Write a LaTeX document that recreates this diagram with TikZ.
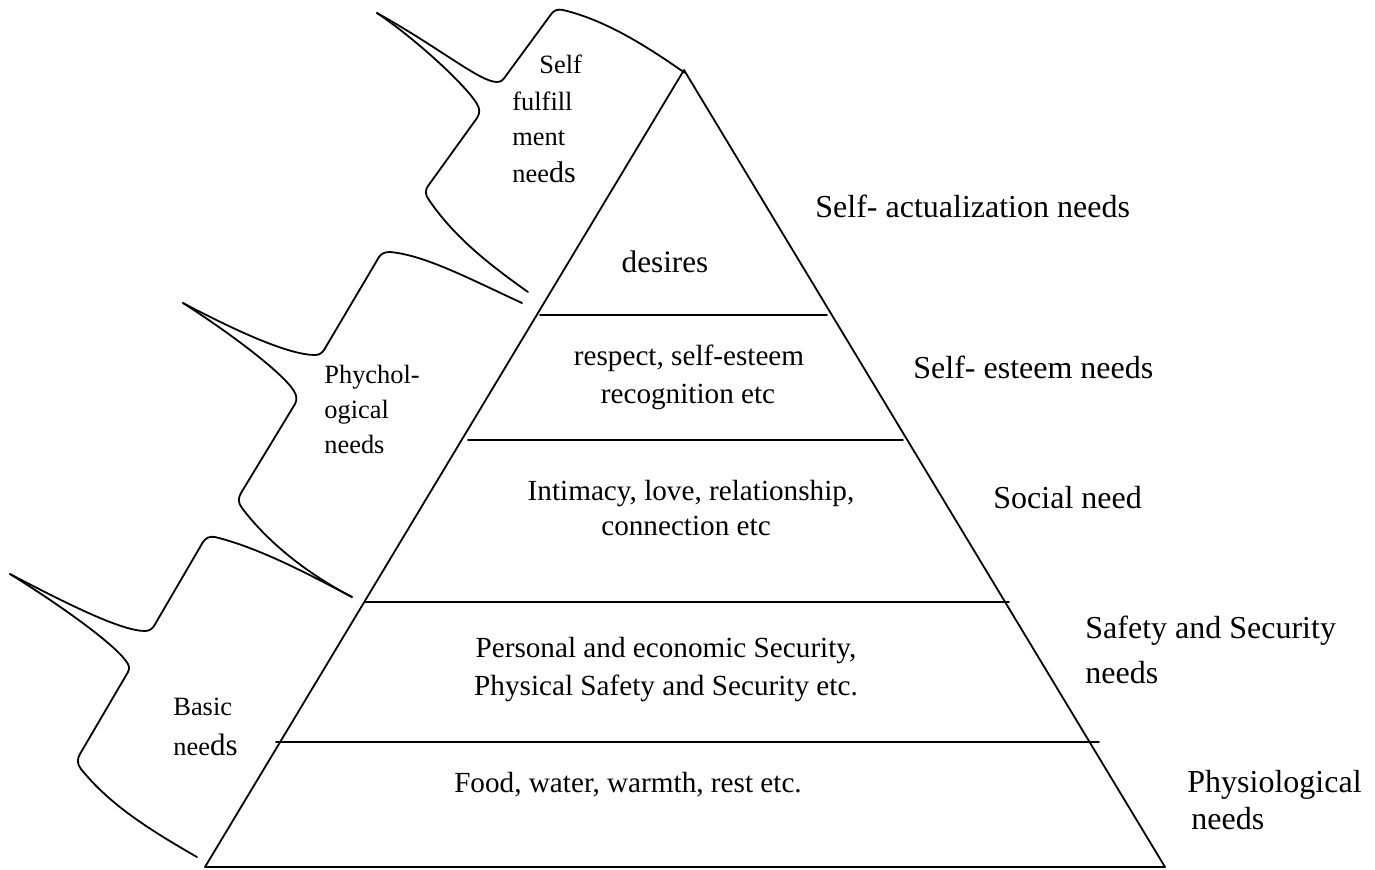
\documentclass[tikz,border=0pt]{standalone}
\usepackage{fontspec}
\setmainfont{Liberation Serif}
\begin{document}
\begin{tikzpicture}[x=0.5pt,y=-0.5pt,
  outline/.style={line width=0.9pt,line join=round,line cap=round},
  tritext/.style={anchor=base,inner sep=0pt,font=\fontsize{14.6pt}{17pt}\selectfont},
  sidetext/.style={anchor=base west,inner sep=0pt,font=\fontsize{16pt}{19pt}\selectfont},
  bracetext/.style={anchor=base west,inner sep=0pt,font=\fontsize{13.2pt}{16pt}\selectfont}]
\useasboundingbox (0,0) rectangle (1375,869);

% pyramid outline
\coordinate (apex) at (684,70);
\coordinate (bl) at (205,867);
\coordinate (br) at (1165,867);
\draw[outline] (apex) -- (bl) -- (br) -- cycle;

% level dividers
\coordinate (d1a) at (540,315); \coordinate (d1b) at (827,315);
\coordinate (d2a) at (468,440); \coordinate (d2b) at (903,440);
\coordinate (d3a) at (365,602); \coordinate (d3b) at (1009,602);
\coordinate (d4a) at (276,742); \coordinate (d4b) at (1099,742);
\draw[outline] (d1a) -- (d1b);
\draw[outline] (d2a) -- (d2b);
\draw[outline] (d3a) -- (d3b);
\draw[outline] (d4a) -- (d4b);

% text inside the pyramid
\node[tritext,font=\fontsize{15.6pt}{18pt}\selectfont] (t1) at (665,272) {desires};
\node[tritext] (t2a) at (689,365) {respect, self-esteem};
\node[tritext] (t2b) at (688,403) {recognition etc};
\node[tritext] (t3a) at (691,500) {Intimacy, love, relationship,};
\node[tritext] (t3b) at (686,535) {connection etc};
\node[tritext] (t4a) at (666,657) {Personal and economic Security,};
\node[tritext] (t4b) at (666,695) {Physical Safety and Security etc.};
\node[tritext] (t5) at (628,792) {Food, water, warmth, rest etc.};

% level names on the right
\node[sidetext] (s1) at (815,217) {Self- actualization needs};
\node[sidetext] (s2) at (913,378) {Self- esteem needs};
\node[sidetext] (s3) at (993,508) {Social need};
\node[sidetext] (s4a) at (1085,638) {Safety and Security};
\node[sidetext] (s4b) at (1085,683) {needs};
\node[sidetext] (s5a) at (1187,792) {Physiological};
\node[sidetext] (s5b) at (1191,829) {needs};

% upper brace: self fulfillment
\draw[outline] (377,13) .. controls (440,48) and (480,82) .. (497,82)
  .. controls (501,82) and (503,80) .. (505,77) -- (552,13)
  .. controls (555,10) and (558,9) .. (563,10)
  .. controls (605,20) and (645,45) .. (685,73);
\draw[outline] (377,13) .. controls (420,42) and (468,88) .. (477,104)
  .. controls (480,109) and (480,113) .. (477,118) -- (428,186)
  .. controls (425,190) and (425,195) .. (429,200)
  .. controls (455,238) and (490,265) .. (528,292);

% middle brace: psychological
\draw[outline] (183,303) .. controls (240,333) and (290,355) .. (315,355)
  .. controls (319,355) and (322,353) .. (324,350) -- (379,257)
  .. controls (381,254) and (384,252) .. (390,252)
  .. controls (425,255) and (472,280) .. (522,303);
\draw[outline] (183,303) .. controls (230,333) and (283,373) .. (294,391)
  .. controls (297,396) and (297,400) .. (295,404) -- (241,493)
  .. controls (238,498) and (238,503) .. (242,508)
  .. controls (270,545) and (310,575) .. (352,597);

% lower brace: basic
\draw[outline] (10,574) .. controls (60,600) and (120,631) .. (145,631)
  .. controls (149,631) and (152,629) .. (154,626) -- (203,542)
  .. controls (206,538) and (209,536) .. (215,537)
  .. controls (260,548) and (310,575) .. (352,597);
\draw[outline] (10,574) .. controls (60,605) and (113,643) .. (126,661)
  .. controls (129,665) and (130,668) .. (128,672) -- (80,754)
  .. controls (77,759) and (77,764) .. (81,769)
  .. controls (110,805) and (150,830) .. (197,857);

% brace labels
\node[bracetext] (b1a) at (539,73) {Self};
\node[bracetext] (b1b) at (512,110) {fulfill};
\node[bracetext] (b1c) at (512,145) {ment};
\node[bracetext] (b1d) at (512,182) {nee{\fontsize{15pt}{18pt}\selectfont ds}};
\node[bracetext] (b2a) at (324,383) {Phychol-};
\node[bracetext] (b2b) at (324,418) {ogical};
\node[bracetext] (b2c) at (324,453) {needs};
\node[bracetext] (b3a) at (173,715) {Basic};
\node[bracetext] (b3b) at (173,755) {nee{\fontsize{15.5pt}{18pt}\selectfont ds}};
\end{tikzpicture}
\end{document}
